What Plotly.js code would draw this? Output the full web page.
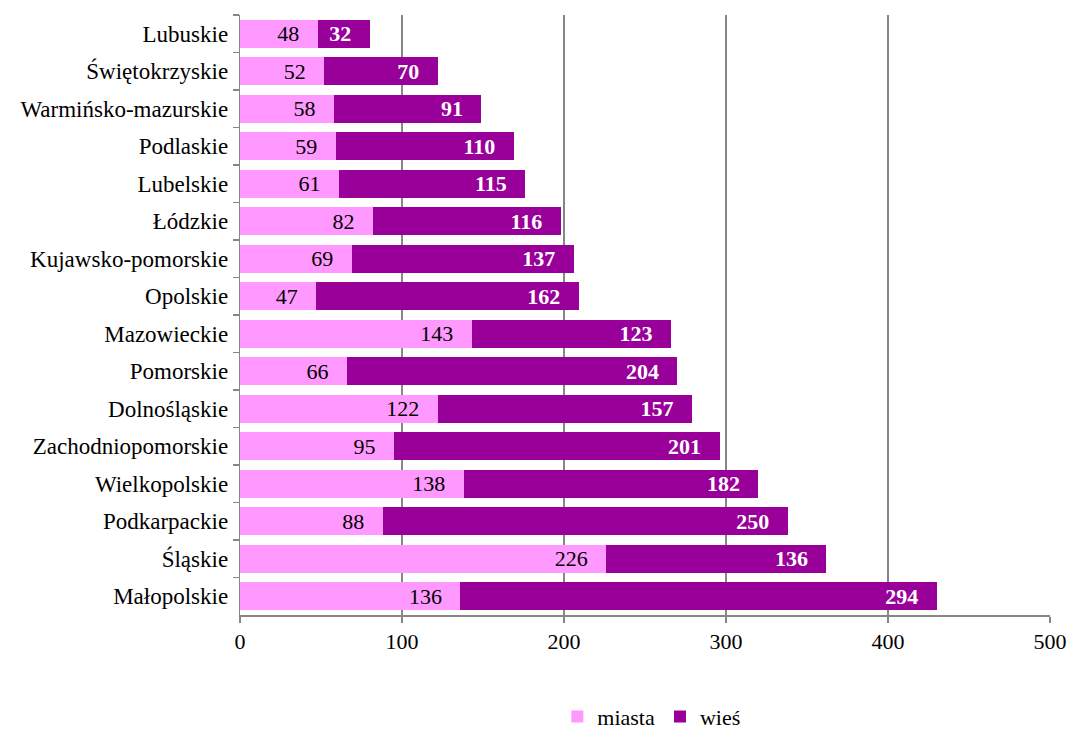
<!DOCTYPE html>
<html>
<head>
<meta charset="utf-8">
<script src="https://cdn.plot.ly/plotly-3.0.1.min.js"></script>
<style>html,body{margin:0;padding:0;background:#fff;}#chart{width:1073px;height:729px;}</style>
</head>
<body>
<div id="chart"></div>
<script>
const categories = ["Lubuskie","Świętokrzyskie","Warmińsko-mazurskie","Podlaskie","Lubelskie","Łódzkie","Kujawsko-pomorskie","Opolskie","Mazowieckie","Pomorskie","Dolnośląskie","Zachodniopomorskie","Wielkopolskie","Podkarpackie","Śląskie","Małopolskie"];
const miasta = [48,52,58,59,61,82,69,47,143,66,122,95,138,88,226,136];
const wies = [32,70,91,110,115,116,137,162,123,204,157,201,182,250,136,294];
const xTicks = [0,100,200,300,400,500];

const serif = "Liberation Serif";
const pad = "\u00a0\u00a0\u2009";

const traces = [
  {type:"bar", orientation:"h", name:"miasta", y:categories, x:miasta,
   marker:{color:"#FF99FF"}, text:miasta.map(v=>v+pad), textposition:"inside",
   insidetextanchor:"end", constraintext:"none", textangle:0,
   textfont:{family:serif, size:22, color:"#000"}, hoverinfo:"x+y"},
  {type:"bar", orientation:"h", name:"wieś", y:categories, x:wies,
   marker:{color:"#990099"}, text:wies.map(v=>"<b>"+v+"</b>"+pad), textposition:"inside",
   insidetextanchor:"end", constraintext:"none", textangle:0,
   textfont:{family:serif, size:22, color:"#fff"}, hoverinfo:"x+y"}
];

const layout = {
  width:1073, height:729,
  margin:{l:240, r:23, t:15, b:114},
  barmode:"stack", bargap:0.25,
  paper_bgcolor:"#fff", plot_bgcolor:"#fff",
  font:{family:serif, size:22, color:"#000"},
  xaxis:{range:[0,500], tickvals:xTicks, ticktext:xTicks.map(String),
    showgrid:true, gridcolor:"#868686", gridwidth:1.5, zeroline:false,
    showline:true, linecolor:"#868686", linewidth:1.5,
    ticks:"outside", ticklen:6, tickcolor:"#868686", tickwidth:1.5,
    tickfont:{family:serif, size:22, color:"#000"}, fixedrange:true, automargin:false},
  yaxis:{type:"category", autorange:"reversed", categoryorder:"array", categoryarray:categories,
    showline:true, linecolor:"#868686", linewidth:1.5, showgrid:false, zeroline:false,
    ticks:"outside", tickson:"boundaries", ticklen:6, tickcolor:"#868686", tickwidth:1.5,
    ticksuffix:" ", tickfont:{family:serif, size:23, color:"#000"}, fixedrange:true, automargin:false},
  showlegend:true,
  legend:{orientation:"h", x:0.607, xanchor:"center", xref:"container", y:0.017, yanchor:"middle", yref:"container",
    font:{family:serif, size:22, color:"#000"}, traceorder:"normal", itemwidth:30}
};

Plotly.newPlot("chart", traces, layout, {displayModeBar:false, staticPlot:true});
</script>
</body>
</html>
